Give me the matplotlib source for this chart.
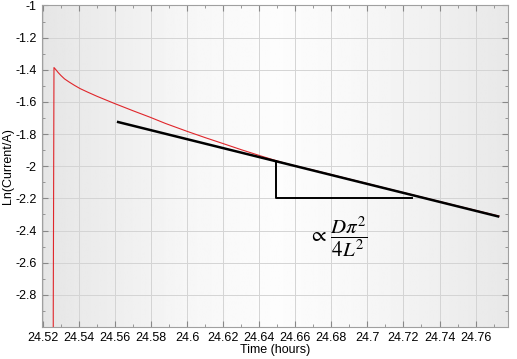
import numpy as np
import matplotlib
matplotlib.use('Agg')
import matplotlib.pyplot as plt
from matplotlib.ticker import MultipleLocator, FixedLocator

plt.rcParams['font.family'] = ['Liberation Sans', 'DejaVu Sans']
plt.rcParams['mathtext.fontset'] = 'stix'

t_hours = [24.5257, 24.5257, 24.5261, 24.5272, 24.5285, 24.5300, 24.5320, 24.5345,
           24.5375, 24.5406, 24.5450, 24.5500, 24.5591, 24.5700, 24.5794, 24.5880,
           24.6000, 24.6100, 24.6202, 24.6300, 24.6406, 24.6490, 24.6572, 24.6700,
           24.6900, 24.7100, 24.7244, 24.7500, 24.7730]
ln_current = [-3.20, -2.90, -1.386, -1.400, -1.418, -1.436, -1.457, -1.476,
              -1.497, -1.517, -1.540, -1.565, -1.607, -1.655, -1.695, -1.734,
              -1.783, -1.822, -1.860, -1.897, -1.935, -1.964, -1.990, -2.024,
              -2.080, -2.136, -2.176, -2.247, -2.310]

# linear fit line
fit_t = [24.5617, 24.7725]
fit_y = [-1.725, -2.312]

# slope triangle
tri_t = [24.6493, 24.6493, 24.7248]
tri_y = [-1.970, -2.195, -2.195]

xticks = [24.52, 24.54, 24.56, 24.58, 24.60, 24.62, 24.64, 24.66, 24.68, 24.70, 24.72, 24.74, 24.76]
xticklabels = ['24.52', '24.54', '24.56', '24.58', '24.6', '24.62', '24.64', '24.66',
               '24.68', '24.7', '24.72', '24.74', '24.76']
yticks = [-2.8, -2.6, -2.4, -2.2, -2.0, -1.8, -1.6, -1.4, -1.2, -1.0]
yticklabels = ['-2.8', '-2.6', '-2.4', '-2.2', '-2', '-1.8', '-1.6', '-1.4', '-1.2', '-1']

fig = plt.figure(figsize=(5.17, 3.59), dpi=100)
ax = fig.add_axes([0.0807, 0.0891, 0.9019, 0.8956])

# gray-white-gray background
gx = np.linspace(0, 1, 300)
shade = np.interp(gx, [0, 0.3, 0.5, 0.65, 1.0], [0.90, 0.965, 0.99, 0.975, 0.91])
ax.imshow(shade[None, :], cmap='gray', vmin=0, vmax=1, aspect='auto',
          extent=[0, 1, 0, 1], transform=ax.transAxes, zorder=0)

ax.plot(t_hours, ln_current, color='#e0262b', lw=0.8, zorder=3)
ax.plot(fit_t, fit_y, color='black', lw=1.8, zorder=4)
ax.plot(tri_t, tri_y, color='black', lw=1.4, zorder=4)
ax.text(24.6835, -2.44, r'$\propto\,\dfrac{D\pi^2}{4L^2}$', fontsize=15,
        ha='center', va='center', zorder=5)

ax.set_xlim(24.5193, 24.778)
ax.set_ylim(-3.0, -1.0)
ax.xaxis.set_major_locator(FixedLocator(xticks))
ax.set_xticklabels(xticklabels)
ax.yaxis.set_major_locator(FixedLocator(yticks))
ax.set_yticklabels(yticklabels)
ax.xaxis.set_minor_locator(MultipleLocator(0.01))
ax.yaxis.set_minor_locator(MultipleLocator(0.1))
ax.tick_params(which='both', direction='in', top=True, right=True,
               color='#888888', labelsize=9)
ax.tick_params(which='major', length=4)
ax.tick_params(which='minor', length=2)
ax.grid(True, which='major', color='#d4d4d4', lw=0.7)
for s in ax.spines.values():
    s.set_color('#a0a0a0')

ax.set_xlabel('Time (hours)', fontsize=9, labelpad=0)
ax.set_ylabel('Ln(Current/A)', fontsize=9, labelpad=1)

fig.savefig('out.png', dpi=100)
